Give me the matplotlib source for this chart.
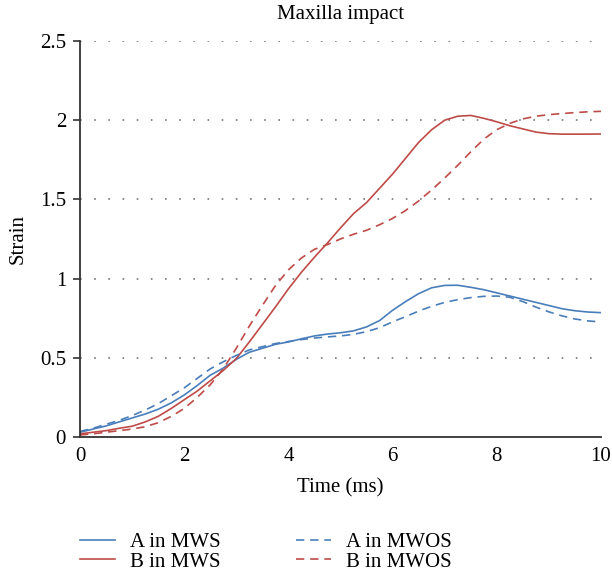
import matplotlib
matplotlib.use("Agg")
import matplotlib.pyplot as plt

time_ms = [0, 0.25, 0.5, 0.75, 1, 1.25, 1.5, 1.75, 2, 2.25, 2.5, 2.75, 3, 3.25, 3.5, 3.75,
           4, 4.25, 4.5, 4.75, 5, 5.25, 5.5, 5.75, 6, 6.25, 6.5, 6.75, 7, 7.25, 7.5, 7.75,
           8, 8.25, 8.5, 8.75, 9, 9.25, 9.5, 9.75, 10]
a_mws = [0.03, 0.05, 0.07, 0.095, 0.12, 0.145, 0.175, 0.215, 0.265, 0.325, 0.39, 0.435, 0.49,
         0.535, 0.56, 0.585, 0.60, 0.62, 0.638, 0.65, 0.658, 0.67, 0.695, 0.735, 0.80, 0.855,
         0.905, 0.942, 0.957, 0.958, 0.945, 0.93, 0.91, 0.89, 0.87, 0.85, 0.83, 0.81, 0.797,
         0.789, 0.785]
a_mwos = [0.035, 0.055, 0.08, 0.105, 0.135, 0.17, 0.21, 0.26, 0.31, 0.37, 0.43, 0.475, 0.515,
          0.55, 0.57, 0.59, 0.603, 0.615, 0.625, 0.632, 0.638, 0.648, 0.665, 0.69, 0.727, 0.76,
          0.795, 0.825, 0.85, 0.867, 0.88, 0.888, 0.89, 0.882, 0.855, 0.82, 0.79, 0.765, 0.745,
          0.733, 0.726]
b_mws = [0.02, 0.03, 0.04, 0.055, 0.068, 0.095, 0.13, 0.18, 0.235, 0.29, 0.355, 0.42, 0.495,
         0.60, 0.71, 0.82, 0.935, 1.04, 1.135, 1.225, 1.32, 1.41, 1.48, 1.57, 1.66, 1.76, 1.86,
         1.94, 2.0, 2.025, 2.03, 2.012, 1.99, 1.965, 1.945, 1.925, 1.915, 1.912, 1.912, 1.912,
         1.913]
b_mwos = [0.013, 0.02, 0.03, 0.04, 0.05, 0.065, 0.09, 0.13, 0.18, 0.25, 0.33, 0.43, 0.56, 0.70,
          0.83, 0.955, 1.055, 1.13, 1.185, 1.215, 1.25, 1.28, 1.305, 1.34, 1.38, 1.43, 1.49,
          1.56, 1.635, 1.715, 1.80, 1.88, 1.94, 1.98, 2.008, 2.025, 2.035, 2.042, 2.048, 2.053,
          2.056]
y_ticks = [0, 0.5, 1, 1.5, 2, 2.5]
y_labels = ["0", "0.5", "1", "1.5", "2", "2.5"]
x_ticks = [0, 2, 4, 6, 8, 10]

BLUE = "#4a7ebb"
RED = "#be4b48"
FS = 15

plt.rcParams['font.family'] = ['Liberation Serif', 'DejaVu Serif']
plt.rcParams['font.size'] = FS

fig = plt.figure(figsize=(6.12, 5.75), dpi=100)
ax = fig.add_axes([0.1307, 0.24, 0.8513, 0.6887])

dash = (0, (5, 3.5))
ax.plot(time_ms, a_mws, color=BLUE, lw=1.2, label="A in MWS")
ax.plot(time_ms, b_mws, color=RED, lw=1.2, label="B in MWS")
ax.plot(time_ms, a_mwos, color=BLUE, lw=1.2, ls=dash, label="A in MWOS")
ax.plot(time_ms, b_mwos, color=RED, lw=1.2, ls=dash, label="B in MWOS")

ax.set_xlim(0, 10)
ax.set_ylim(0, 2.5)
ax.set_xticks(x_ticks)
ax.set_yticks(y_ticks)
ax.set_yticklabels(y_labels)
for y in y_ticks[1:]:
    ax.axhline(y, color="#777777", lw=1.2, ls=(0, (1, 7.5)), zorder=0)

for s in ["top", "right"]:
    ax.spines[s].set_visible(False)
ax.spines["left"].set_linewidth(1.3)
ax.spines["bottom"].set_linewidth(1.3)
ax.spines["left"].set_color("#333333")
ax.spines["bottom"].set_color("#333333")
ax.tick_params(axis="y", direction="out", length=5, width=1.2, color="#333333", pad=5,
               labelsize=FS)
ax.tick_params(axis="x", length=0, pad=7, labelsize=FS)

ax.set_title("Maxilla impact", fontsize=FS, pad=16)
ax.set_xlabel("Time (ms)", fontsize=FS, labelpad=9)
ax.set_ylabel("Strain", fontsize=FS, labelpad=9)

fig.legend(loc="center left", bbox_to_anchor=(0.1307, 0.040), ncol=2, frameon=False,
           fontsize=FS, handlelength=1.7, handletextpad=0.72, columnspacing=3.6,
           labelspacing=0.0, borderpad=0, borderaxespad=0)

fig.savefig("out.png", dpi=100)
